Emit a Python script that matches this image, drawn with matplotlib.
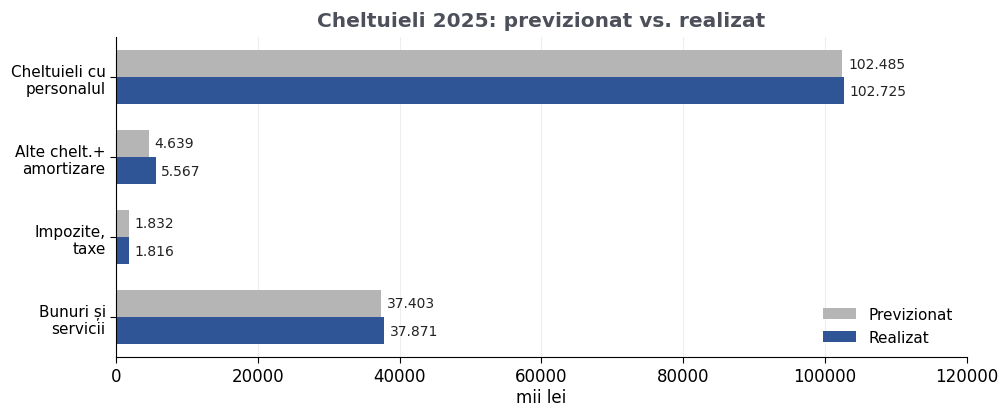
import numpy as np
import matplotlib.pyplot as plt

# ── data ───────────────────────────────────────────────────────────────────────
categories = ["Cheltuieli cu\npersonalul", "Alte chelt.+\namortizare",
              "Impozite,\ntaxe", "Bunuri și\nservicii"]
previzionat = [102485, 4639, 1832, 37403]
realizat    = [102725, 5567, 1816, 37871]

GREY = "#b5b5b5"
BLUE = "#2f5597"


def fmt(v):
    return f"{v:,.0f}".replace(",", ".")


# ── plot ───────────────────────────────────────────────────────────────────────
fig = plt.figure(figsize=(10.03, 4.10), dpi=100)
ax = fig.add_axes([0.1157, 0.127, 0.848, 0.780])

y = np.arange(len(categories))
h = 0.34
b1 = ax.barh(y - h / 2, previzionat, height=h, color=GREY, label="Previzionat")
b2 = ax.barh(y + h / 2, realizat, height=h, color=BLUE, label="Realizat")

for bars, vals in [(b1, previzionat), (b2, realizat)]:
    for bar, v in zip(bars, vals):
        ax.text(bar.get_width() + 800, bar.get_y() + bar.get_height() / 2,
                fmt(v), va="center", ha="left", fontsize=10, color="#222222")

ax.set_yticks(y)
ax.set_yticklabels(categories, fontsize=11)
ax.set_ylim(3.5, -0.5)
ax.set_xlim(0, 120000)
ax.set_xticks(np.arange(0, 120001, 20000))
ax.tick_params(axis="x", labelsize=12, length=4)
ax.tick_params(axis="y", length=4)
ax.xaxis.grid(True, color="#eeeeee", linewidth=0.8)
ax.set_axisbelow(True)
ax.spines[["top", "right"]].set_visible(False)
ax.set_xlabel("mii lei", fontsize=12, labelpad=2)
ax.set_title("Cheltuieli 2025: previzionat vs. realizat",
             fontsize=14.5, fontweight="bold", color="#4d505a", pad=8)
ax.legend(loc="lower right", frameon=False, fontsize=11, handlelength=2.2,
          bbox_to_anchor=(1.0, -0.005))

plt.savefig("out.png", dpi=100)
